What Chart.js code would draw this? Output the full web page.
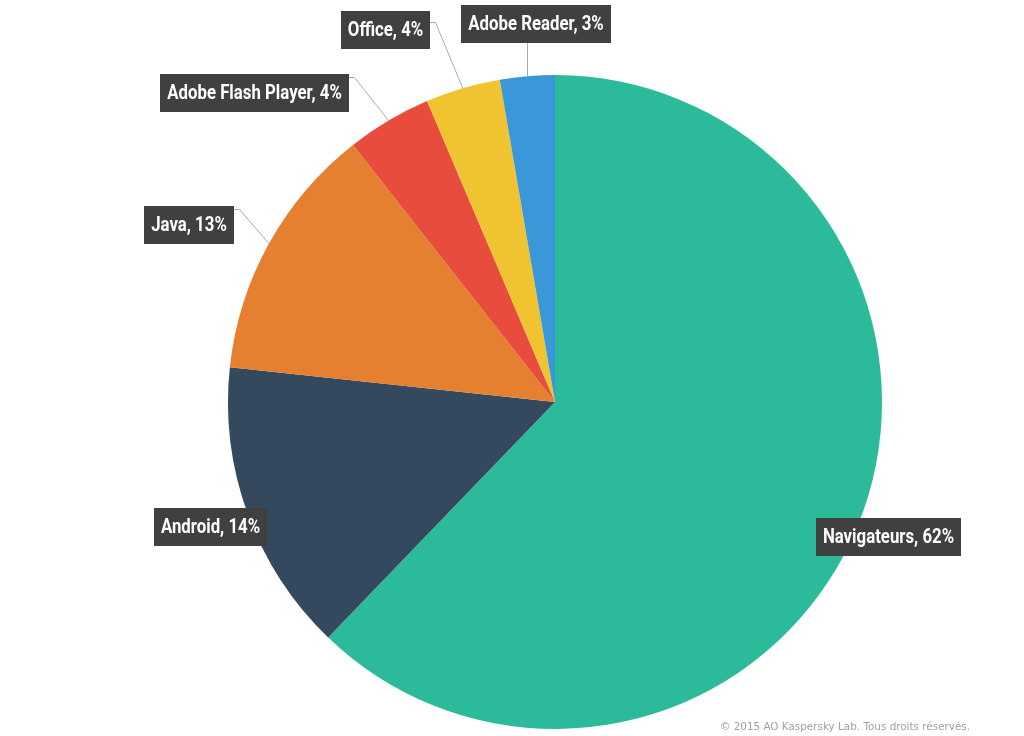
<!DOCTYPE html>
<html>
<head>
<meta charset="utf-8">
<script src="https://cdn.jsdelivr.net/npm/chart.js@4"></script>
<style>
  html, body { margin: 0; padding: 0; background: #fff; }
  #wrap { position: relative; width: 1024px; height: 736px; }
  #copy {
    position: absolute; left: 720px; top: 720px;
    font: 10.4px 'DejaVu Sans', sans-serif; color: #a0a0a0; white-space: nowrap;
  }
</style>
</head>
<body>
<div id="wrap">
  <canvas id="pie" width="1024" height="736"></canvas>
  <div id="copy">© 2015 AO Kaspersky Lab. Tous droits réservés.</div>
</div>
<script>
const categories = ['Navigateurs', 'Android', 'Java', 'Adobe Flash Player', 'Office', 'Adobe Reader'];
const shares = [62.2, 14.5, 12.7, 4.2, 3.7, 2.7];        // slice sizes
const shownPercent = [62, 14, 13, 4, 4, 3];              // percentages printed on the labels
const colors = ['#2bbb9b', '#34495e', '#e4802f', '#e74c3c', '#f0c330', '#3a98d9'];

// how each label sits next to its slice
const labelPlacement = [
  { mode: 'center', f: 1.1 },
  { mode: 'center', f: 1.12 },
  { mode: 'elbow', dx: -30, dy: -35, rise: 4 },
  { mode: 'elbow', dx: -35, dy: -44, rise: 4 },
  { mode: 'elbow', dx: -28, dy: -66, rise: 12 },
  { mode: 'up', dy: -33, shift: 8 }
];

const labelFont = 'bold 21px Roboto, "DejaVu Sans", sans-serif';
const squeeze = 0.8; // narrow the glyphs to look like a condensed face

const labelPlugin = {
  id: 'boxLabels',
  afterDatasetsDraw(chart) {
    const ctx = chart.ctx;
    const meta = chart.getDatasetMeta(0);
    ctx.save();
    ctx.font = labelFont;
    meta.data.forEach((arc, i) => {
      const p = arc.getProps(['x', 'y', 'startAngle', 'endAngle', 'outerRadius'], true);
      const mid = (p.startAngle + p.endAngle) / 2;
      const ex = p.x + Math.cos(mid) * p.outerRadius;
      const ey = p.y + Math.sin(mid) * p.outerRadius;
      const text = categories[i] + ', ' + shownPercent[i] + '%';
      const tw = ctx.measureText(text).width * squeeze;
      const bw = Math.round(tw + 14), bh = 38;
      const cfg = labelPlacement[i];
      let bx, by;

      ctx.strokeStyle = '#aaaaaa';
      ctx.lineWidth = 1;
      if (cfg.mode === 'center') {
        const cx = p.x + Math.cos(mid) * p.outerRadius * cfg.f;
        const cy = p.y + Math.sin(mid) * p.outerRadius * cfg.f;
        bx = cx - bw / 2;
        by = cy - bh / 2;
      } else if (cfg.mode === 'elbow') {
        const kx = Math.round(ex + cfg.dx) + 0.5, ky = Math.round(ey + cfg.dy) + 0.5;
        bx = kx - 6 - bw;
        by = ky - cfg.rise;
        ctx.beginPath();
        ctx.moveTo(ex, ey);
        ctx.lineTo(kx, ky);
        ctx.lineTo(kx - 6, ky);
        ctx.stroke();
      } else {
        const lx = Math.round(ex) + 0.5;
        const ky = ey + cfg.dy;
        bx = lx + cfg.shift - bw / 2;
        by = ky - bh;
        ctx.beginPath();
        ctx.moveTo(lx, ey);
        ctx.lineTo(lx, ky);
        ctx.stroke();
      }

      bx = Math.round(bx);
      by = Math.round(by);
      ctx.fillStyle = '#404040';
      ctx.fillRect(bx, by, bw, bh);
      ctx.save();
      ctx.translate(bx + bw / 2, by + bh / 2 + 1);
      ctx.scale(squeeze, 1);
      ctx.fillStyle = '#ffffff';
      ctx.textAlign = 'center';
      ctx.textBaseline = 'middle';
      ctx.fillText(text, 0, 0);
      ctx.restore();
    });
    ctx.restore();
  }
};

new Chart(document.getElementById('pie'), {
  type: 'pie',
  data: {
    labels: categories,
    datasets: [{
      data: shares,
      backgroundColor: colors,
      borderWidth: 0
    }]
  },
  options: {
    responsive: false,
    animation: false,
    layout: { padding: { top: 75, bottom: 7, left: 228, right: 142 } },
    plugins: {
      legend: { display: false },
      tooltip: { enabled: false }
    }
  },
  plugins: [labelPlugin]
});
</script>
</body>
</html>
